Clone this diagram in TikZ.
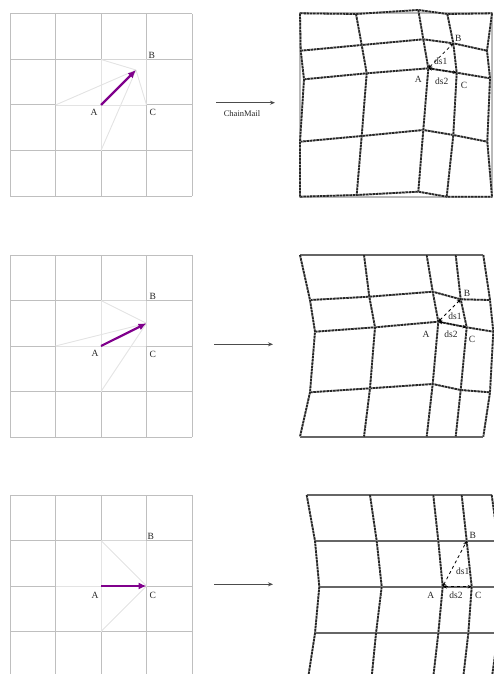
\documentclass[tikz,border=0pt]{standalone}
\usepackage{fontspec}
\setmainfont{Liberation Serif}
\usetikzlibrary{arrows.meta}
\definecolor{movecol}{RGB}{128,0,140}
\begin{document}
\begin{tikzpicture}[x=1pt,y=-1pt,
  lbl/.style={font=\fontsize{9.5}{11}\selectfont, inner sep=0pt, text=black!85},
  gridline/.style={gray!50, line width=1pt},
  faint/.style={gray!22, line width=0.9pt},
  midline/.style={gray!32, line width=0.9pt},
  mesh/.style={preaction={draw=gray!55, line width=1.8pt, solid}, black!85, line width=1.8pt, dash pattern=on 2.5pt off 0.8pt},
  flat/.style={black!60, line width=1.7pt},
  framebox/.style={gray!55, line width=1.8pt},
  movearrow/.style={-{Latex[length=8pt,width=7pt]}, line width=2.2pt, movecol},
  dsarrow/.style={{Stealth[length=4pt,width=3.5pt]}-{Stealth[length=4pt,width=3.5pt]}, dashed, line width=0.8pt, black},
  maparrow/.style={-{Stealth[length=5pt,width=4pt]}, line width=1pt, black!70}
]
\useasboundingbox (0,0) rectangle (494,674);
\clip (0,0) rectangle (494,674);

% ---------- left panels: regular grids ----------
\foreach \k/\t in {1/14,2/255,3/495}{
  \foreach \i in {0,...,4}{
    \foreach \j in {0,...,4}{
      \coordinate (L\k-\i-\j) at ({10+45.5*\i},{\t+45.5*\j});
    }
  }
}
\foreach \k in {1,2,3}{
  % horizontal edges
  \foreach \j in {0,...,4}{
    \foreach \i in {0,...,3}{
      \pgfmathtruncatemacro{\ii}{\i+1}
      \pgfmathtruncatemacro{\fa}{(\j==2)&&((\i==1)||(\i==2))}
      \pgfmathtruncatemacro{\md}{(\j==1)&&(\i==2)}
      \ifnum\fa=1
        \draw[faint] (L\k-\i-\j) -- (L\k-\ii-\j);
      \else\ifnum\md=1
        \draw[midline] (L\k-\i-\j) -- (L\k-\ii-\j);
      \else
        \draw[gridline] (L\k-\i-\j) -- (L\k-\ii-\j);
      \fi\fi
    }
  }
  % vertical edges
  \foreach \i in {0,...,4}{
    \foreach \j in {0,...,3}{
      \pgfmathtruncatemacro{\jj}{\j+1}
      \pgfmathtruncatemacro{\fa}{(\i==2)&&((\j==1)||(\j==2))}
      \pgfmathtruncatemacro{\md}{(\i==3)&&(\j==1)}
      \ifnum\fa=1
        \draw[faint] (L\k-\i-\j) -- (L\k-\i-\jj);
      \else\ifnum\md=1
        \draw[midline] (L\k-\i-\j) -- (L\k-\i-\jj);
      \else
        \draw[gridline] (L\k-\i-\j) -- (L\k-\i-\jj);
      \fi\fi
    }
  }
}

% moved points
\coordinate (P1) at (136,70);
\coordinate (P2) at (146.5,323.3);
\draw[faint] (P1) -- (L1-2-1) (P1) -- (L1-1-2) (P1) -- (L1-2-3) (P1) -- (L1-3-2);
\draw[faint] (P2) -- (L2-2-1) (P2) -- (L2-1-2) (P2) -- (L2-2-3);
\draw[faint] (L3-3-2) -- (L3-2-1) (L3-3-2) -- (L3-2-3);

\draw[movearrow] (L1-2-2) -- (P1);
\draw[movearrow] (L2-2-2) -- (P2);
\draw[movearrow] (L3-2-2) -- (L3-3-2);

% left labels
\node[lbl] (lB1) at (151.7,55) {B};
\node[lbl] (lC1) at (152.7,112.3) {C};
\node[lbl] (lA1) at (94,112.3) {A};
\node[lbl] (lB2) at (152.7,296) {B};
\node[lbl] (lC2) at (152.7,354) {C};
\node[lbl] (lA2) at (95,353.3) {A};
\node[lbl] (lB3) at (150.7,536.7) {B};
\node[lbl] (lC3) at (152.7,595) {C};
\node[lbl] (lA3) at (95,595.7) {A};

% ---------- middle arrows ----------
\coordinate (m1s) at (216,102.7); \coordinate (m1e) at (275,102.7);
\coordinate (m2s) at (214,344.3); \coordinate (m2e) at (273,344.3);
\coordinate (m3s) at (214,584.3); \coordinate (m3e) at (273,584.3);
\draw[maparrow] (m1s) -- (m1e);
\draw[maparrow] (m2s) -- (m2e);
\draw[maparrow] (m3s) -- (m3e);
\node[lbl, font=\fontsize{8.5}{10}\selectfont] (cm) at (242,113.5) {ChainMail};

% ---------- right panels: deformed grids ----------
% panel 1
\coordinate (R1-0-0) at (300,13.3); \coordinate (R1-1-0) at (356,14); \coordinate (R1-2-0) at (418.3,10); \coordinate (R1-3-0) at (447.3,14); \coordinate (R1-4-0) at (492,13.3);
\coordinate (R1-0-1) at (300.7,50.7); \coordinate (R1-1-1) at (361.7,45); \coordinate (R1-2-1) at (423.3,39.3); \coordinate (R1-3-1) at (453.3,43.3); \coordinate (R1-4-1) at (487,50.7);
\coordinate (R1-0-2) at (304,79.3); \coordinate (R1-1-2) at (366.7,73.3); \coordinate (R1-2-2) at (428.3,68.3); \coordinate (R1-3-2) at (456.7,72.7); \coordinate (R1-4-2) at (490,78.3);
\coordinate (R1-0-3) at (300,141.7); \coordinate (R1-1-3) at (361.7,136); \coordinate (R1-2-3) at (423.3,130); \coordinate (R1-3-3) at (453.3,135); \coordinate (R1-4-3) at (487.3,141.7);
\coordinate (R1-0-4) at (300,196.7); \coordinate (R1-1-4) at (356.7,195); \coordinate (R1-2-4) at (418.3,191.7); \coordinate (R1-3-4) at (446.7,196.7); \coordinate (R1-4-4) at (492,196.7);
% panel 2
\coordinate (R2-0-0) at (300,255); \coordinate (R2-1-0) at (364,255); \coordinate (R2-2-0) at (426.7,255); \coordinate (R2-3-0) at (455.7,255); \coordinate (R2-4-0) at (483.3,255);
\coordinate (R2-0-1) at (310,300); \coordinate (R2-1-1) at (369.3,296.7); \coordinate (R2-2-1) at (432.7,291.7); \coordinate (R2-3-1) at (460.7,299.3); \coordinate (R2-4-1) at (490,300);
\coordinate (R2-0-2) at (315,331.7); \coordinate (R2-1-2) at (375,327.3); \coordinate (R2-2-2) at (438.3,321.7); \coordinate (R2-3-2) at (466.7,327.3); \coordinate (R2-4-2) at (493.3,331.7);
\coordinate (R2-0-3) at (310,392.3); \coordinate (R2-1-3) at (370,388.3); \coordinate (R2-2-3) at (432.7,384); \coordinate (R2-3-3) at (460.7,390); \coordinate (R2-4-3) at (490,392.3);
\coordinate (R2-0-4) at (300,436.7); \coordinate (R2-1-4) at (364,436.7); \coordinate (R2-2-4) at (426.7,436.7); \coordinate (R2-3-4) at (455.7,436.7); \coordinate (R2-4-4) at (483.3,436.7);
% panel 3
\coordinate (R3-0-0) at (306.7,495); \coordinate (R3-1-0) at (370,495); \coordinate (R3-2-0) at (433.3,495); \coordinate (R3-3-0) at (461.7,495); \coordinate (R3-4-0) at (491.7,495);
\coordinate (R3-0-1) at (315,541); \coordinate (R3-1-1) at (376.7,541); \coordinate (R3-2-1) at (438.3,541); \coordinate (R3-3-1) at (466.7,541); \coordinate (R3-4-1) at (498,541);
\coordinate (R3-0-2) at (319.3,586.7); \coordinate (R3-1-2) at (381.7,586.7); \coordinate (R3-2-2) at (442.7,586.7); \coordinate (R3-3-2) at (471.7,586.7); \coordinate (R3-4-2) at (502,586.7);
\coordinate (R3-0-3) at (315,633.3); \coordinate (R3-1-3) at (376,633.3); \coordinate (R3-2-3) at (438.3,633.3); \coordinate (R3-3-3) at (468.3,633.3); \coordinate (R3-4-3) at (498,633.3);
\coordinate (R3-0-4) at (308.3,676.7); \coordinate (R3-1-4) at (371.7,676.7); \coordinate (R3-2-4) at (433.3,676.7); \coordinate (R3-3-4) at (463.3,676.7); \coordinate (R3-4-4) at (492,676.7);

% frame of panel 1
\draw[framebox] (R1-0-0) rectangle (R1-4-4);

% horizontals
\foreach \j in {0,...,4}{
  \draw[mesh] (R1-0-\j) -- (R1-1-\j) -- (R1-2-\j) -- (R1-3-\j) -- (R1-4-\j);
  \draw[flat] (R3-0-\j) -- (R3-1-\j) -- (R3-2-\j) -- (R3-3-\j) -- (R3-4-\j);
}
\foreach \j in {1,2,3}{
  \draw[mesh] (R2-0-\j) -- (R2-1-\j) -- (R2-2-\j) -- (R2-3-\j) -- (R2-4-\j);
}
\foreach \j in {0,4}{
  \draw[flat] (R2-0-\j) -- (R2-1-\j) -- (R2-2-\j) -- (R2-3-\j) -- (R2-4-\j);
}
% verticals
\foreach \p in {1,2,3}{
  \foreach \i in {0,...,4}{
    \draw[mesh] (R\p-\i-0) -- (R\p-\i-1) -- (R\p-\i-2) -- (R\p-\i-3) -- (R\p-\i-4);
  }
}

% distance arrows
\foreach \p in {1,2,3}{
  \draw[dsarrow] (R\p-2-2) -- (R\p-3-1);
  \draw[dsarrow] (R\p-2-2) -- (R\p-3-2);
}

% right labels
\node[lbl] (rB1) at (458.3,38.3) {B};
\node[lbl] (rA1) at (418.3,79) {A};
\node[lbl] (rC1) at (464,85) {C};
\node[lbl] (rd11) at (440.7,61.7) {ds1};
\node[lbl] (rd21) at (441.7,81) {ds2};
\node[lbl] (rB2) at (467,293) {B};
\node[lbl] (rA2) at (426,334) {A};
\node[lbl] (rC2) at (472,339) {C};
\node[lbl] (rd12) at (455,316) {ds1};
\node[lbl] (rd22) at (451,334) {ds2};
\node[lbl] (rB3) at (472.7,535) {B};
\node[lbl] (rA3) at (430.7,595) {A};
\node[lbl] (rC3) at (478.3,595) {C};
\node[lbl] (rd13) at (462.7,571.7) {ds1};
\node[lbl] (rd23) at (456,595) {ds2};
\end{tikzpicture}
\end{document}
